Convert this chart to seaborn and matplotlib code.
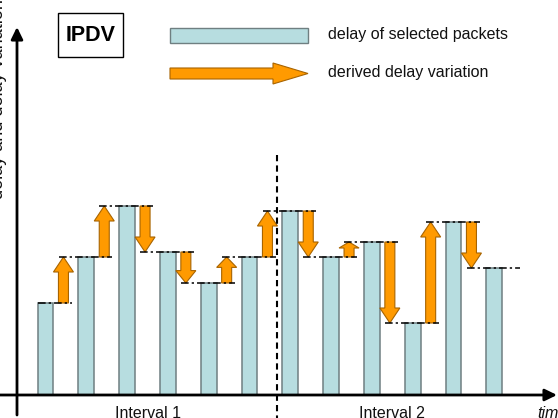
import matplotlib
matplotlib.use("Agg")
import matplotlib.pyplot as plt
import numpy as np
import pandas as pd
import seaborn as sns
from matplotlib.patches import Rectangle, FancyArrow

# ---- data ----
packet = list(range(12))
delay = [92, 138, 189, 143, 112, 138, 184, 138, 153, 72, 173, 127]
interval_labels = ["Interval 1", "Interval 2"]
legend_labels = ["delay of selected packets", "derived delay variation"]
title_text = "IPDV"
ylabel_text = "delay and delay variation"
xlabel_text = "time"

sns.set_theme(style="white")
plt.rcParams["font.family"] = ["Liberation Sans", "DejaVu Sans"]

BAR_FC = "#b7dde0"
BAR_EC = "#6f7f81"
ARR_FC = "#ff9a00"
ARR_EC = "#a86400"

fig = plt.figure(figsize=(5.58, 4.18), dpi=100)

# main data axes
ax = fig.add_axes([0, 0, 1, 1])
df = pd.DataFrame({"packet": packet, "delay": delay})
sns.barplot(data=df, x="packet", y="delay", native_scale=True, width=0.39,
            color=BAR_FC, edgecolor=BAR_EC, linewidth=1.1, saturation=1,
            ax=ax, zorder=2)
slot = 40.8
ax.set_xlim(-45.5 / slot, (558 - 45.5) / slot)
ax.set_ylim(-23, 395)
ax.axis("off")

# dash-dot level lines
for i, d in enumerate(delay):
    x0 = i - 0.19 if i == 0 else i - 0.68
    x1 = i + 0.64
    ax.hlines(d, x0, x1, colors="black", linestyles=(0, (5, 2, 1.5, 2)),
              lw=1.1, zorder=4)

# delay variation arrows
for i in range(len(delay) - 1):
    dy = delay[i + 1] - delay[i]
    hl = min(15, 0.4 * abs(dy))
    ax.add_patch(FancyArrow(i + 0.44, delay[i], 0, dy, width=10 / slot,
                            head_width=20 / slot, head_length=hl,
                            length_includes_head=True, fc=ARR_FC, ec=ARR_EC,
                            lw=0.8, zorder=3))

# overlay axes in pixel units for decorations
ov = fig.add_axes([0, 0, 1, 1])
ov.set_xlim(0, 558)
ov.set_ylim(418, 0)
ov.axis("off")

# axes arrows
ov.annotate("", xy=(557, 395), xytext=(0, 395),
            arrowprops=dict(arrowstyle="-|>,head_length=0.45,head_width=0.22",
                            lw=2, color="black", shrinkA=0, shrinkB=0,
                            mutation_scale=16))
ov.annotate("", xy=(17, 27), xytext=(17, 415),
            arrowprops=dict(arrowstyle="-|>,head_length=0.45,head_width=0.22",
                            lw=2, color="black", shrinkA=0, shrinkB=0,
                            mutation_scale=16))

# interval separator
ov.plot([277, 277], [155, 418], color="black", lw=1.5, ls=(0, (3, 2)))

# IPDV box
ov.add_patch(Rectangle((58, 13), 65, 44, fc="white", ec="black", lw=1.0))
ov.text(90.5, 35.5, title_text, ha="center", va="center", size=15.5,
        weight="bold", color="black")

# legend
ov.add_patch(Rectangle((170, 28), 138, 15, fc=BAR_FC, ec=BAR_EC, lw=1.0))
ov.add_patch(FancyArrow(170, 73.5, 138, 0, width=11, head_width=21,
                        head_length=35, length_includes_head=True,
                        fc=ARR_FC, ec=ARR_EC, lw=0.8))
ov.text(328, 34, legend_labels[0], ha="left", va="center", size=11.5,
        color="#111111")
ov.text(328, 73, legend_labels[1], ha="left", va="center", size=11.5,
        color="#111111")

# bottom labels
ov.text(148, 406, interval_labels[0], ha="center", va="top", size=11.5,
        color="#111111")
ov.text(392, 406, interval_labels[1], ha="center", va="top", size=11.5,
        color="#111111")
ov.text(537, 406, xlabel_text, ha="left", va="top", size=11.5,
        style="italic", color="#111111")

# y label (partly cut off at left)
ov.text(7, 99, ylabel_text, rotation=90, ha="right", va="center", size=13,
        color="#111111")

fig.savefig("out.png", dpi=100)
